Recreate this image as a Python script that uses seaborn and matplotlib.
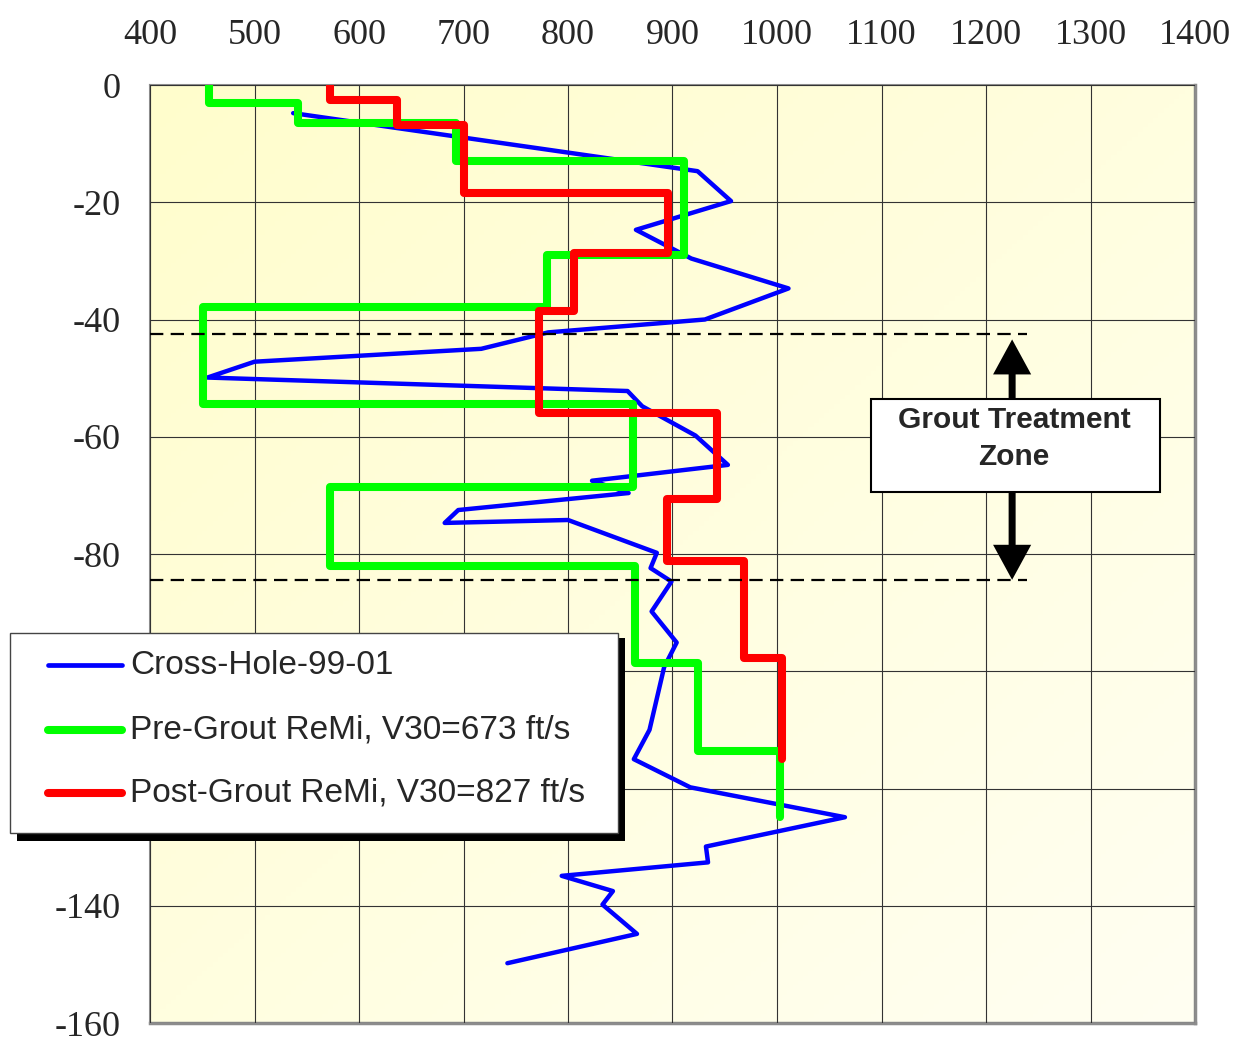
import matplotlib
matplotlib.use("Agg")
import matplotlib.pyplot as plt
import numpy as np
import pandas as pd
import seaborn as sns
from matplotlib.lines import Line2D
from matplotlib.patches import Rectangle

# Cross-hole profile (velocity ft/s, depth ft)
cross_hole_velocity = [537, 924, 956, 865, 918, 1011, 931, 781, 717, 500, 455, 857, 871,
                       922, 953, 823, 858, 695, 682, 800, 885, 879, 899, 880, 904, 892,
                       878, 863, 917, 1065, 932, 934, 794, 843, 833, 866, 742]
cross_hole_depth = [4.8, 14.7, 19.8, 24.7, 29.6, 34.7, 40.0, 42.2, 45.0, 47.2, 49.9, 52.2,
                    54.8, 59.8, 64.8, 67.5, 69.6, 72.5, 74.7, 74.2, 79.8, 82.4, 84.7, 89.8,
                    95.1, 99.3, 110.0, 115.0, 119.8, 124.9, 129.9, 132.6, 134.9, 137.5,
                    139.8, 144.8, 149.8]

# ReMi layered models: layer velocity + layer boundaries (depth, ft)
pre_velocity = [456, 542, 693, 911, 780, 451, 862, 572, 864, 924, 1003]
pre_bounds = [0, 3.0, 6.5, 12.9, 29.0, 37.8, 54.4, 68.5, 82.0, 98.6, 113.6, 124.8]
post_velocity = [572, 636, 700, 896, 806, 772, 943, 895, 968, 1005]
post_bounds = [0, 2.6, 6.9, 18.4, 28.7, 38.5, 55.9, 70.7, 81.2, 97.8, 115.0]

labels = ["Cross-Hole-99-01", "Pre-Grout ReMi, V30=673 ft/s", "Post-Grout ReMi, V30=827 ft/s"]
colors = ["#0000FF", "#00FF00", "#FF0000"]

zone_top, zone_bottom = 42.5, 84.4
x_ticks = list(range(400, 1401, 100))
y_ticks = list(range(-160, 1, 20))

W, H = 1244, 1047


def step_profile(vel, bounds):
    xs, ys = [], []
    for v, top, bot in zip(vel, bounds[:-1], bounds[1:]):
        xs += [v, v]
        ys += [-top, -bot]
    return pd.DataFrame({"velocity": xs, "elevation": ys})


sns.set_style("white")
plt.rcParams["font.family"] = ["Liberation Serif", "DejaVu Serif"]
plt.rcParams["axes.unicode_minus"] = False

fig = plt.figure(figsize=(W / 100, H / 100), dpi=100)
ax = fig.add_axes([150 / W, 1 - 1023 / H, 1045 / W, 938 / H])

# background gradient (yellow top-left -> pale bottom-right)
gx, gy = np.meshgrid(np.linspace(0, 1, 200), np.linspace(0, 1, 200))
t = np.clip((gx + gy) / 2, 0, 1)
c0 = np.array([255, 253, 204]) / 255
c1 = np.array([255, 255, 242]) / 255
grad = c0[None, None, :] * (1 - t[..., None]) + c1[None, None, :] * t[..., None]
ax.imshow(grad, extent=[400, 1400, -160, 0], aspect="auto", zorder=0, origin="upper")

ch = pd.DataFrame({"velocity": cross_hole_velocity,
                   "elevation": [-d for d in cross_hole_depth]})
sns.lineplot(data=ch, x="velocity", y="elevation", sort=False, estimator=None,
             color=colors[0], lw=3.2, ax=ax, zorder=3)
sns.lineplot(data=step_profile(pre_velocity, pre_bounds), x="velocity", y="elevation",
             sort=False, estimator=None, color=colors[1], lw=5.8, ax=ax, zorder=4,
             solid_capstyle="round", solid_joinstyle="round")
sns.lineplot(data=step_profile(post_velocity, post_bounds), x="velocity", y="elevation",
             sort=False, estimator=None, color=colors[2], lw=5.8, ax=ax, zorder=5,
             solid_capstyle="round", solid_joinstyle="round")

# grout zone limits
for z in (zone_top, zone_bottom):
    ax.plot([400, 1239], [-z, -z], color="black", lw=1.6,
            linestyle=(0, (6.0, 3.3)), zorder=6)

arrow_x = 1225
head = dict(arrowstyle="simple,head_length=0.9,head_width=0.98,tail_width=0.18",
            mutation_scale=28, fc="black", ec="none", shrinkA=0, shrinkB=0)
ax.annotate("", xy=(arrow_x, -43.4), xytext=(arrow_x, -53.8), arrowprops=head, zorder=7)
ax.annotate("", xy=(arrow_x, -84.4), xytext=(arrow_x, -69.2), arrowprops=head, zorder=7)
ax.add_patch(Rectangle((1089.7, -69.4), 276.8, 15.8, facecolor="white",
                       edgecolor="black", lw=1.5, zorder=8))
ax.text(1227, -60.3, "Grout Treatment\nZone", ha="center", va="center",
        fontsize=21.5, fontweight="bold", family=["Liberation Sans", "DejaVu Sans"],
        linespacing=1.45, zorder=9)

ax.set_xlim(400, 1400)
ax.set_ylim(-160, 0)
ax.set_xticks(x_ticks)
ax.set_yticks(y_ticks)
ax.xaxis.tick_top()
ax.set_xlabel("")
ax.set_ylabel("")
ax.tick_params(axis="both", length=0, labelsize=26)
ax.tick_params(axis="x", pad=24)
ax.tick_params(axis="y", pad=21)
ax.grid(True, color="#333333", lw=0.8, zorder=1)
ax.set_axisbelow(False)
for side, lw in (("left", 1.5), ("top", 1.5), ("right", 2.5), ("bottom", 2.5)):
    ax.spines[side].set_color("#8c8c8c")
    ax.spines[side].set_linewidth(lw)
    ax.spines[side].set_zorder(2)
for gl in ax.get_xgridlines() + ax.get_ygridlines():
    gl.set_zorder(1)


# legend box drawn in figure pixels
def fx(px):
    return px / W


def fy(py):
    return 1 - py / H


fig.patches.append(Rectangle((fx(17), fy(841)), 608 / W, 203 / H, transform=fig.transFigure,
                             facecolor="black", edgecolor="none", zorder=20))
fig.patches.append(Rectangle((fx(10), fy(833)), 608 / W, 200 / H, transform=fig.transFigure,
                             facecolor="white", edgecolor="#444444", lw=1.0, zorder=21))
row_y = [665, 730, 793]
row_lw = [3.4, 5.8, 5.8]
for lab, col, ry, lw in zip(labels, colors, row_y, row_lw):
    fig.lines.append(Line2D([fx(48), fx(122)], [fy(ry), fy(ry)], transform=fig.transFigure,
                            color=col, lw=lw, solid_capstyle="round", zorder=22))
    fig.text(fx(130), fy(ry), lab, ha="left", va="center", fontsize=24,
             family=["Liberation Sans", "DejaVu Sans"], zorder=23)

fig.savefig("out.png", dpi=100)
